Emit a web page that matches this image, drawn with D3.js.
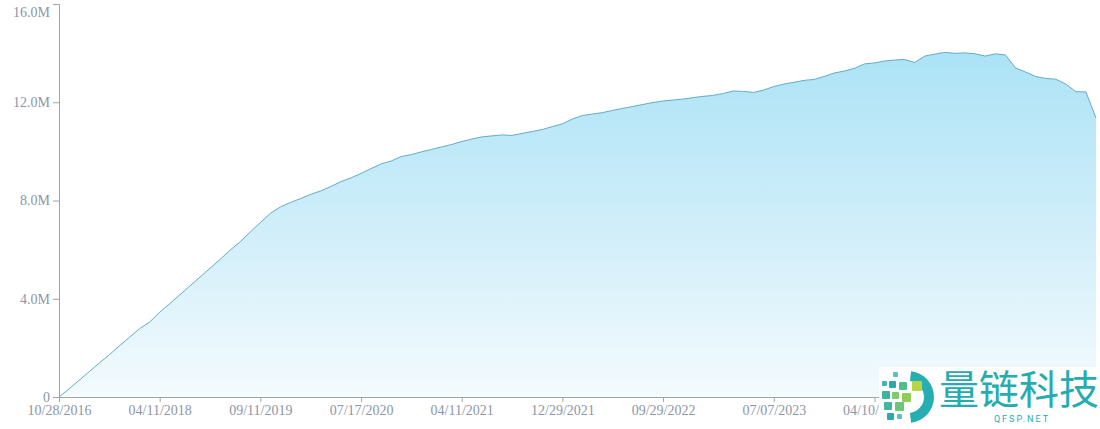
<!DOCTYPE html>
<html>
<head>
<meta charset="utf-8">
<script src="https://cdn.jsdelivr.net/npm/d3@7"></script>
<style>
  html, body { margin: 0; padding: 0; background: #fff; }
  #chart { width: 1100px; height: 429px; }
  .axis text { font-family: "Liberation Serif", serif; font-size: 14px; fill: #8c96a8; }
  .axis path, .axis line { stroke: #a3a3a3; }
</style>
</head>
<body>
<div id="chart"></div>
<script>
// series values in millions, one per sample
const values = [
  0, 0.33, 0.68, 1.03, 1.38, 1.72, 2.08, 2.43, 2.78, 3.05,
  3.45, 3.80, 4.16, 4.52, 4.88, 5.24, 5.60, 5.98, 6.32, 6.72,
  7.10, 7.48, 7.74, 7.92, 8.08, 8.25, 8.39, 8.57, 8.77, 8.92,
  9.10, 9.30, 9.49, 9.61, 9.79, 9.87, 9.98, 10.08, 10.18, 10.28,
  10.40, 10.50, 10.59, 10.63, 10.67, 10.65, 10.73, 10.81, 10.89, 11.01,
  11.12, 11.32, 11.46, 11.52, 11.58, 11.67, 11.75, 11.83, 11.91, 11.99,
  12.05, 12.09, 12.13, 12.19, 12.24, 12.28, 12.36, 12.46, 12.44, 12.40,
  12.50, 12.64, 12.74, 12.81, 12.89, 12.93, 13.05, 13.19, 13.27, 13.38,
  13.56, 13.60, 13.68, 13.72, 13.74, 13.62, 13.88, 13.96, 14.03, 13.99,
  14.01, 13.97, 13.88, 13.97, 13.93, 13.40, 13.23, 13.05, 12.97, 12.94,
  12.74, 12.43, 12.42, 11.36
];

const tickIdx = [0, 10, 20, 30, 40, 50, 60, 71, 81];
const tickLabels = [
  '10/28/2016', '04/11/2018', '09/11/2019', '07/17/2020', '04/11/2021',
  '12/29/2021', '09/29/2022', '07/07/2023', '04/10/2024'
];
const yTicks = [0, 4e6, 8e6, 12e6, 16e6];

function drawChart() {
    const W = 1100, H = 429;
    const margin = { top: 4, right: 4, bottom: 32, left: 59 };

    const svg = d3.select('#chart').append('svg')
        .attr('width', W)
        .attr('height', H);

    const x = d3.scaleLinear()
        .domain([0, values.length - 1])
        .range([margin.left, W - margin.right]);

    const y = d3.scaleLinear()
        .domain([0, 16e6])
        .range([H - margin.bottom, margin.top]);

    const data = values.map((v, i) => ({ i, v: v * 1e6 }));

    // gradient fill
    const grad = svg.append('defs').append('linearGradient')
        .attr('id', 'fillGrad')
        .attr('gradientUnits', 'userSpaceOnUse')
        .attr('x1', 0).attr('x2', 0)
        .attr('y1', y(14e6)).attr('y2', y(0));
    grad.append('stop').attr('offset', '0%').attr('stop-color', '#ace3f6');
    grad.append('stop').attr('offset', '55%').attr('stop-color', '#d3effa');
    grad.append('stop').attr('offset', '100%').attr('stop-color', '#f4fbfe');

    const area = d3.area()
        .x(d => x(d.i))
        .y0(y(0))
        .y1(d => y(d.v));

    const line = d3.line()
        .x(d => x(d.i))
        .y(d => y(d.v));

    svg.append('path')
        .datum(data)
        .attr('fill', 'url(#fillGrad)')
        .attr('d', area);

    svg.append('path')
        .datum(data)
        .attr('fill', 'none')
        .attr('stroke', '#62acc8')
        .attr('stroke-width', 1)
        .attr('d', line);

    // axes
    const yAxis = svg.append('g')
        .attr('class', 'axis')
        .attr('transform', `translate(${margin.left},0)`)
        .call(d3.axisLeft(y)
            .tickValues(yTicks)
            .tickFormat(d => d === 0 ? '0' : (d / 1e6).toFixed(1) + 'M'));

    // top label nudged down so it stays inside the picture
    yAxis.selectAll('.tick text')
        .filter(d => d === 16e6)
        .attr('dy', '0.9em');

    svg.append('g')
        .attr('class', 'axis')
        .attr('transform', `translate(0,${y(0)})`)
        .call(d3.axisBottom(x)
            .tickValues(tickIdx)
            .tickSize(5)
            .tickFormat((d, k) => tickLabels[k]));

    // watermark
    const wm = svg.append('g').attr('class', 'watermark');
    wm.append('rect')
        .attr('x', 879).attr('y', 367)
        .attr('width', W - 879).attr('height', H - 367)
        .attr('fill', '#ffffff').attr('opacity', 0.96);

    wm.append('path')
        .attr('transform', 'translate(908,397)')
        .attr('d', d3.arc()({ innerRadius: 16, outerRadius: 26, startAngle: 0.12, endAngle: Math.PI - 0.12 }))
        .attr('fill', '#27aeb1');

    const squares = [
        [893, 372, 5, '#5bbfc4'], [882, 381, 5, '#41b3b8'], [889, 381, 7, '#2aa8ad'],
        [899, 382, 8, '#4fbf8a'], [882, 391, 8, '#3bb59a'], [892, 392, 7, '#7fca6a'],
        [902, 393, 9, '#92cc55'], [912, 381, 10, '#b7d444'], [884, 402, 8, '#42b5a0'],
        [895, 402, 9, '#6dc47a'], [887, 413, 7, '#2aa8ad'], [897, 414, 5, '#5bbfc4']
    ];
    wm.selectAll('rect.sq')
        .data(squares)
        .enter().append('rect')
        .attr('class', 'sq')
        .attr('x', d => d[0]).attr('y', d => d[1])
        .attr('width', d => d[2]).attr('height', d => d[2])
        .attr('rx', 1)
        .attr('fill', d => d[3]);

    wm.append('text')
        .attr('x', 939).attr('y', 404)
        .attr('font-family', '"Noto Sans CJK SC", sans-serif')
        .attr('font-size', 40)
        .attr('fill', '#26acb0')
        .text('量链科技');

    wm.append('text')
        .attr('x', 1022).attr('y', 422)
        .attr('text-anchor', 'middle')
        .attr('font-family', 'Roboto, sans-serif')
        .attr('font-size', 9)
        .attr('letter-spacing', 2)
        .attr('fill', '#26acb0')
        .text('QFSP.NET');
}

drawChart();
</script>
</body>
</html>
